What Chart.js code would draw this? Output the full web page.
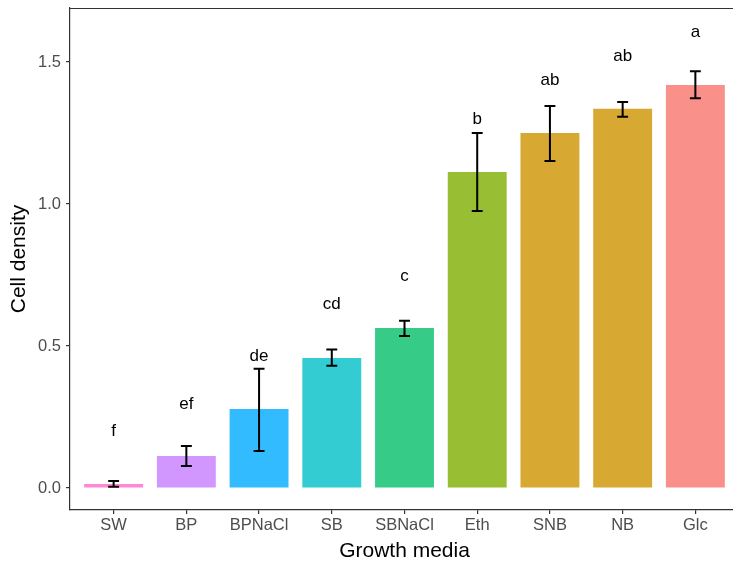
<!DOCTYPE html>
<html>
<head>
<meta charset="utf-8">
<script src="https://cdn.jsdelivr.net/npm/chart.js@4"></script>
<style>
  html, body { margin: 0; padding: 0; background: #fff; overflow: hidden; }
  #wrap { width: 743px; height: 564px; }
</style>
</head>
<body>
<div id="wrap"><canvas id="mediaChart" width="743" height="564"></canvas></div>
<script>
// --- data ---
const media = ['SW', 'BP', 'BPNaCl', 'SB', 'SBNaCl', 'Eth', 'SNB', 'NB', 'Glc'];
const density = [0.014, 0.113, 0.278, 0.458, 0.563, 1.113, 1.25, 1.335, 1.419];
const errLow = [0.004, 0.077, 0.13, 0.43, 0.535, 0.975, 1.151, 1.307, 1.372];
const errHigh = [0.025, 0.148, 0.42, 0.488, 0.589, 1.25, 1.345, 1.359, 1.467];
const groups = ['f', 'ef', 'de', 'cd', 'c', 'b', 'ab', 'ab', 'a'];
const groupY = [0.2, 0.296, 0.465, 0.648, 0.746, 1.299, 1.435, 1.519, 1.606];
const yTicks = [0, 0.5, 1.0, 1.5];

// fill colours (ggplot hue at 0.8 alpha, flattened on white)
const fills = ['#FF87D8', '#D296FF', '#33BBFF', '#33CCD2', '#37CB88',
               '#98BE33', '#D7A933', '#D7A933', '#F9908A'];

const axisGrey = '#333333';
const tickText = '#4D4D4D';
const fontFam = '"Liberation Sans", Arial, sans-serif';

// error bars + significance letters + panel frame
const extras = {
    id: 'extras',
    afterDatasetsDraw(chart) {
        const { ctx, scales: { x, y }, chartArea } = chart;
        ctx.save();
        ctx.strokeStyle = '#000';
        ctx.lineWidth = 2;
        errLow.forEach((lo, i) => {
            const cx = x.getPixelForValue(i);
            const hw = x.getPixelForValue(i + 0.075) - cx;
            const yl = y.getPixelForValue(lo);
            const yh = y.getPixelForValue(errHigh[i]);
            ctx.beginPath();
            ctx.moveTo(cx, yl); ctx.lineTo(cx, yh);
            ctx.moveTo(cx - hw, yl); ctx.lineTo(cx + hw, yl);
            ctx.moveTo(cx - hw, yh); ctx.lineTo(cx + hw, yh);
            ctx.stroke();
        });
        ctx.fillStyle = '#000';
        ctx.font = '17px ' + fontFam;
        ctx.textAlign = 'center';
        ctx.textBaseline = 'middle';
        groups.forEach((g, i) => {
            ctx.fillText(g, x.getPixelForValue(i), y.getPixelForValue(groupY[i]));
        });
        // top edge of the panel
        ctx.strokeStyle = axisGrey;
        ctx.lineWidth = 1.2;
        ctx.beginPath();
        ctx.moveTo(chartArea.left, chartArea.top + 0.5);
        ctx.lineTo(chartArea.right + 10, chartArea.top + 0.5);
        ctx.stroke();
        ctx.restore();
    }
};

const ctx = document.getElementById('mediaChart');
new Chart(ctx, {
    type: 'bar',
    data: {
        datasets: [{
            label: 'Cell density',
            data: density.map((v, i) => ({ x: i, y: v })),
            backgroundColor: fills,
            borderWidth: 0,
            barPercentage: 0.81,
            categoryPercentage: 1.0
        }]
    },
    options: {
        responsive: false,
        animation: false,
        layout: { padding: { top: 8, right: 4, left: 0, bottom: 0 } },
        plugins: {
            legend: { display: false },
            tooltip: { enabled: false }
        },
        scales: {
            x: {
                type: 'linear',
                offset: false,
                min: -0.6,
                max: 8.6,
                afterBuildTicks: s => { s.ticks = media.map((_, i) => ({ value: i })); },
                afterFit: s => { s.height = 54; s.paddingLeft = 0; s.paddingRight = 0; },
                grid: { display: true, offset: false, drawOnChartArea: false, tickLength: 4, color: axisGrey, lineWidth: 1.2 },
                border: { display: true, color: axisGrey, width: 1.2 },
                ticks: {
                    color: tickText,
                    font: { family: fontFam, size: 16.5 },
                    padding: 2,
                    autoSkip: false,
                    maxRotation: 0,
                    callback: v => media[v]
                },
                title: {
                    display: true,
                    text: 'Growth media',
                    color: '#000',
                    font: { family: fontFam, size: 21 },
                    padding: { top: 0, bottom: 0 }
                }
            },
            y: {
                min: -0.0775,
                max: 1.69,
                afterBuildTicks: s => { s.ticks = yTicks.map(v => ({ value: v })); },
                afterFit: s => { s.width = 70; s.paddingTop = 0; s.paddingBottom = 0; },
                grid: { display: true, drawOnChartArea: false, tickLength: 4, color: axisGrey, lineWidth: 1.2 },
                border: { display: true, color: axisGrey, width: 1.2 },
                ticks: {
                    color: tickText,
                    font: { family: fontFam, size: 16.5 },
                    padding: 5,
                    callback: v => v.toFixed(1)
                },
                title: {
                    display: true,
                    text: 'Cell density',
                    color: '#000',
                    font: { family: fontFam, size: 21 },
                    padding: { top: 7, bottom: 2 }
                }
            }
        }
    },
    plugins: [extras]
});
</script>
</body>
</html>
